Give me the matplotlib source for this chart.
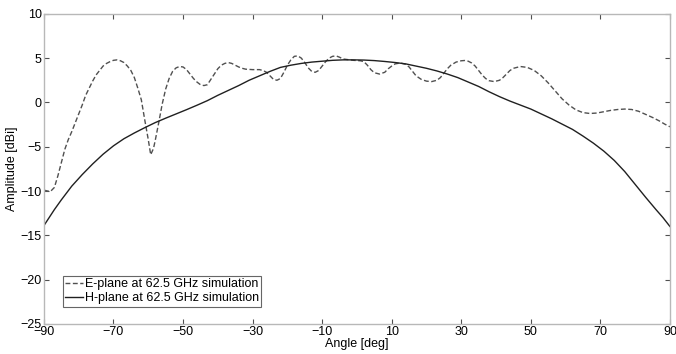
import matplotlib
matplotlib.use("Agg")
import matplotlib.pyplot as plt

# E-plane (dashed)
e_angle = [-90, -89, -88, -87, -86, -85, -84, -83, -82, -81, -80, -79, -78, -77, -76,
           -75, -74, -73, -72, -71, -70, -69, -68, -67, -66, -65, -64, -63, -62, -61,
           -60, -59.3, -58.5, -58, -57, -56, -55, -54, -53, -52, -51, -50, -49, -48,
           -47, -46, -45, -44, -43, -42, -41, -40, -39, -38, -37, -36, -35, -34, -33,
           -32, -30, -28, -27, -26, -25, -24, -23, -22, -21, -20, -19, -18, -17, -16,
           -15, -14, -13, -12, -11, -10, -9, -8, -7, -6, -5, -4, -3, -1, 1, 2, 3, 4, 5,
           6.5, 8, 9, 10, 11, 12.5, 14, 15, 16, 17, 18.5, 20, 21.5, 23, 24, 25, 26, 27,
           28.5, 30, 31, 32, 33, 34, 35, 36, 37, 38, 39.5, 41, 42, 43, 44, 45, 47, 49,
           51, 53, 55, 57, 59, 61, 63, 65, 67, 69, 71, 73, 75, 77, 79, 81, 83, 85, 87,
           88.5, 90]
e_gain = [-9.9, -10.0, -10.0, -9.6, -8.3, -6.8, -5.3, -4.2, -3.3, -2.3, -1.3, -0.3, 0.8,
          1.6, 2.4, 3.1, 3.6, 4.1, 4.4, 4.6, 4.75, 4.8, 4.7, 4.5, 4.1, 3.6, 2.8, 1.6, 0.3,
          -2.0, -4.2, -5.9, -5.2, -4.3, -2.3, -0.2, 1.5, 2.7, 3.5, 3.9, 4.05, 4.0, 3.7,
          3.2, 2.7, 2.3, 2.0, 1.9, 2.0, 2.6, 3.2, 3.8, 4.2, 4.4, 4.5, 4.4, 4.2, 4.0, 3.85,
          3.75, 3.7, 3.7, 3.6, 3.4, 3.0, 2.6, 2.5, 2.7, 3.4, 4.2, 4.8, 5.2, 5.25, 5.0,
          4.5, 3.9, 3.5, 3.4, 3.6, 4.1, 4.6, 5.0, 5.2, 5.25, 5.1, 4.9, 4.85, 4.75, 4.7,
          4.6, 4.2, 3.7, 3.35, 3.2, 3.4, 3.8, 4.1, 4.35, 4.45, 4.3, 4.0, 3.5, 3.0, 2.6,
          2.4, 2.35, 2.5, 2.8, 3.3, 3.8, 4.2, 4.55, 4.7, 4.73, 4.65, 4.45, 4.1, 3.6, 3.1,
          2.7, 2.45, 2.35, 2.5, 2.8, 3.2, 3.6, 3.85, 4.05, 3.95, 3.6, 3.0, 2.2, 1.3, 0.4,
          -0.3, -0.85, -1.15, -1.25, -1.2, -1.05, -0.9, -0.8, -0.75, -0.8, -1.0, -1.35,
          -1.7, -2.1, -2.45, -2.75]

# H-plane (solid)
h_angle = [-90, -87, -85, -82, -79, -76, -73, -70, -67, -64, -61, -58, -55, -52, -49,
           -46, -43, -40, -37, -34, -31, -28, -25, -22, -19, -16, -13, -10, -7, -4, -1,
           2, 5, 8, 11, 14, 17, 20, 23, 26, 29, 32, 35, 38, 41, 44, 47, 50, 53, 56, 59,
           62, 65, 68, 71, 74, 77, 80, 83, 86, 88, 90]
h_gain = [-13.9, -12.1, -11.0, -9.45, -8.15, -6.95, -5.85, -4.9, -4.1, -3.45, -2.85,
          -2.28, -1.78, -1.3, -0.82, -0.32, 0.2, 0.8, 1.35, 1.9, 2.5, 3.0, 3.5, 3.95, 4.2,
          4.4, 4.55, 4.65, 4.75, 4.8, 4.8, 4.78, 4.72, 4.62, 4.5, 4.35, 4.1, 3.85, 3.55,
          3.2, 2.8, 2.3, 1.8, 1.2, 0.65, 0.15, -0.3, -0.75, -1.3, -1.85, -2.45, -3.05,
          -3.8, -4.6, -5.5, -6.55, -7.8, -9.25, -10.7, -12.1, -13.0, -14.0]

x_ticks = list(range(-90, 91, 20))
y_ticks = list(range(-25, 11, 5))

plt.rcParams["font.family"] = ["Liberation Sans", "DejaVu Sans"]
plt.rcParams["font.size"] = 9

fig = plt.figure(figsize=(6.76, 3.54), dpi=100)
ax = fig.add_axes([0.065, 0.085, 0.926, 0.876])

ax.plot(e_angle, e_gain, color="#505050", lw=1.0, dashes=(3.5, 1.8),
        label="E-plane at 62.5 GHz simulation")
ax.plot(h_angle, h_gain, color="#202020", lw=1.0,
        label="H-plane at 62.5 GHz simulation")

ax.set_xlim(-90, 90)
ax.set_ylim(-25, 10)
ax.set_xticks(x_ticks)
ax.set_yticks(y_ticks)
ax.tick_params(direction="in", top=True, right=True, length=3.6, width=0.8,
               color="#505050", pad=1.5, labelsize=9)
for s in ax.spines.values():
    s.set_color("#b8b8b8")
    s.set_linewidth(1.0)

ax.set_xlabel("Angle [deg]", labelpad=0, fontsize=9)
ax.set_ylabel("Amplitude [dBi]", labelpad=2, fontsize=9)

leg = ax.legend(loc="lower left", bbox_to_anchor=(0.03, 0.055), fontsize=9,
                frameon=True, fancybox=False, handlelength=1.4, handletextpad=0.15,
                borderpad=0.2, labelspacing=0.15, borderaxespad=0)
leg.get_frame().set_edgecolor("#404040")
leg.get_frame().set_linewidth(0.8)

fig.savefig("out.png", dpi=100)
